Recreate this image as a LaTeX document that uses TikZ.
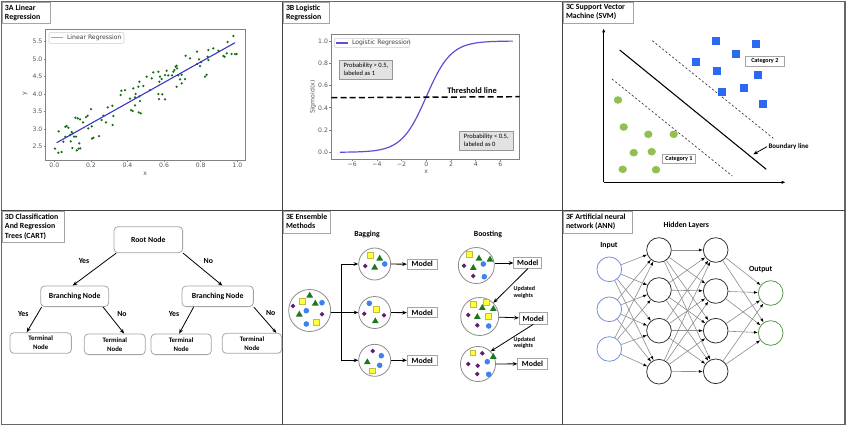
\documentclass[tikz,border=0pt]{standalone}
\usepackage{fontspec}
\setmainfont{Carlito}
\newfontfamily\mplfont{DejaVu Sans}
\usetikzlibrary{arrows.meta}

\definecolor{gridgray}{RGB}{70,70,70}
\definecolor{boxgray}{RGB}{165,165,165}
\definecolor{framegray}{RGB}{130,130,130}
\definecolor{tickgray}{RGB}{85,85,85}
\definecolor{legframe}{RGB}{205,205,205}
\definecolor{scattergreen}{RGB}{20,110,20}
\definecolor{regblue}{RGB}{50,50,200}
\definecolor{legblue}{RGB}{155,155,230}
\definecolor{sigblue}{RGB}{90,80,215}
\definecolor{probfill}{RGB}{226,226,226}
\definecolor{probedge}{RGB}{150,150,150}
\definecolor{svmblue}{RGB}{45,105,240}
\definecolor{svmgreen}{RGB}{146,192,80}
\definecolor{circgray}{RGB}{140,140,140}
\definecolor{ensyellow}{RGB}{255,255,60}
\definecolor{ensyedge}{RGB}{190,190,60}
\definecolor{ensgreen}{RGB}{30,120,30}
\definecolor{ensblue}{RGB}{60,130,240}
\definecolor{enspurple}{RGB}{95,30,115}
\definecolor{anninput}{RGB}{115,145,220}
\definecolor{annhidden}{RGB}{50,50,50}
\definecolor{annout}{RGB}{85,150,75}
\definecolor{annline}{RGB}{140,140,140}

\tikzset{every picture/.style={line width=0.75pt}}
\tikzset{
  panel/.style={draw=gridgray, line width=0.8pt},
  ttlbox/.style={draw=boxgray, line width=0.5pt},
  ttl/.style={anchor=north west, inner sep=0.75pt, align=left, font=\fontsize{5.9}{7}\selectfont\bfseries},
  lbl/.style={inner sep=0.75pt, font=\fontsize{5.85}{7}\selectfont\bfseries},
  plotframe/.style={draw=framegray, line width=0.5pt},
  ticklbl/.style={inner sep=0.75pt, text=tickgray, font=\mplfont\fontsize{4.6}{5.2}\selectfont},
  legbox/.style={draw=legframe, fill=white, line width=0.4pt, rounded corners=1pt},
  scatdot/.style={fill=scattergreen},
  probbox/.style={draw=probedge, fill=probfill, line width=0.5pt, align=left, inner sep=1.5pt, minimum width=40pt, minimum height=14pt, font=\fontsize{4.9}{6}\selectfont},
  catbox/.style={draw=boxgray, fill=white, line width=0.5pt, inner sep=1pt, minimum height=7pt, font=\fontsize{4.6}{5.5}\selectfont\bfseries},
  axisarrow/.style={draw=black, line width=0.6pt, -{Latex[length=3pt,width=2.4pt]}},
  svmsq/.style={fill=svmblue},
  svmdot/.style={fill=svmgreen},
  cartbox/.style={draw=boxgray, rounded corners=3pt, line width=0.6pt, align=center, inner sep=1pt, font=\fontsize{5.85}{7}\selectfont\bfseries},
  termbox/.style={cartbox, minimum height=15.5pt, font=\fontsize{5.1}{6.6}\selectfont\bfseries},
  cartarrow/.style={draw=black, line width=0.6pt, -{Stealth[length=3.5pt,width=2.8pt]}},
  enscirc/.style={circle, draw=circgray, fill=white, line width=0.6pt, inner sep=0pt},
  modelbox/.style={draw=boxgray, fill=white, line width=0.6pt, inner sep=0pt, font=\fontsize{5.9}{7}\selectfont\bfseries},
  ensline/.style={draw=black, line width=0.6pt},
  ensarrow/.style={ensline, -{Stealth[length=3.5pt,width=2.8pt]}},
  ysq/.style={fill=ensyellow, draw=ensyedge, line width=0.3pt},
  gtri/.style={fill=ensgreen},
  bdot/.style={fill=ensblue},
  pdia/.style={fill=enspurple},
  wtlbl/.style={anchor=west, inner sep=0.5pt, align=left, font=\fontsize{4.5}{5}\selectfont\bfseries},
  neuron/.style={circle, draw=annhidden, line width=0.6pt, minimum size=18.5pt, inner sep=0pt},
  annedge/.style={draw=annline, line width=0.45pt, -{Latex[length=3pt,width=2.2pt,color=black]}},
}

\begin{document}
\begin{tikzpicture}[x=0.75pt,y=0.75pt,yscale=-1,xscale=1]
\useasboundingbox (0,0) rectangle (847,426);

%Panel grid
\draw[panel, draw=gray!80!black, line width=1.1pt] (1.5,1.5) rectangle (845,424.5);
\draw[panel] (282.3,1.5) -- (282.3,424.5);
\draw[panel] (562.3,1.5) -- (562.3,424.5);
\draw[panel] (1.5,210.7) -- (845,210.7);

%%%%%%%% 3A Linear regression
\draw[ttlbox] (2,2) rectangle (50,23);
\node[ttl] (ttlA) at (3.5,3) {3A Linear\\Regression};
%Plot frame and ticks
\draw[plotframe] (45.7,29.3) rectangle (245.7,160);
\foreach \v [count=\k] in {2.5,3.0,3.5,4.0,4.5,5.0,5.5}
  \draw[plotframe] (45.7,{146.7-(\v-2.5)*35}) -- ++(-2,0) node[ticklbl, anchor=east] (ytA\k) {\v};
\foreach \u [count=\k] in {0.0,0.2,0.4,0.6,0.8,1.0}
  \draw[plotframe] ({54.3+183*\u},160) -- ++(0,2) node[ticklbl, anchor=north] (xtA\k) {\u};
\node[ticklbl] (xlabA) at (145.3,174.3) {x};
\node[ticklbl, rotate=90] (ylabA) at (25,94) {y};
%Scatter
\foreach \p in {(233.3,36),(227.7,42),(218.3,50.7),(213.3,48.3),(208.3,50),(197,51.7),(185.7,55.7),(190,58.3),
  (199,59.3),(201,62),(197,64),(200,66),(226.7,53.3),(231.7,54),(235,54),(236.7,54),(224.7,56.7),(223.3,56),
  (207.7,56.7),(208.3,60),(176.7,65.7),(175.7,66.7),(174.3,70),(177,68.3),(173.3,71.7),(166.7,70.7),(168.3,75.3),
  (172,75.3),(178.3,75.3),(181.7,74.7),(180,79.3),(185,79),(176.7,86.7),(181.7,83.3),(205,76.7),(206.7,74.7),
  (153.3,72.3),(158.3,71.7),(160,76.7),(161.7,79),(165,75),(159.3,81.7),(151.7,78.3),(146.7,76.7),(143.3,86),
  (150,90),(158.3,94),(162.3,94.3),(159,99),(165,99.3),(139.3,81.7),(138.3,86.7),(133.3,88.3),(135.7,94),
  (139.3,96.3),(140,101),(138.7,112.3),(140.7,113.3),(125,90),(121.3,90.7),(120.7,95),(130,98.7),(135,97.3),
  (131,110),(132.7,111),(135,105.3),(112.3,105.7),(107.7,107.3),(113.3,116),(112.7,125),(103.3,115.7),
  (106,122.3),(101.7,120),(91,109),(87.7,115.7),(91.7,126.3),(93.3,137.7),(92,138.7),(99,136),(83,122.3),
  (86,117),(88.3,128.3),(77.7,118.3),(80,119.3),(75.3,117.7),(66.7,126),(65.3,126.7),(68.3,127.7),(71.7,132),
  (70,135),(72.7,133.3),(70.7,141.3),(74,136.7),(76,136.7),(79.3,143.3),(78.7,148.7),(80.3,148.3),(76.7,150.3),
  (72.3,148),(58.7,131.3),(65.3,136.7),(63.3,141.7),(55,148.7),(58.3,152.7),(61.7,152)}
  \fill[scatdot] \p circle (1.25);
%Fitted line
\draw[draw=regblue, line width=0.8pt] (56.7,142.7) -- (235,42.7);
%Legend
\draw[legbox] (49,32.3) rectangle (124,43.3);
\draw[draw=legblue, line width=0.8pt] (50.7,37.8) -- (63.3,37.8);
\node[ticklbl, anchor=west, text=black!75] (legA) at (65.5,37.8) {Linear Regression};

%%%%%%%% 3B Logistic regression
\draw[ttlbox] (283,2) rectangle (329,23);
\node[ttl] (ttlB) at (284.5,3) {3B Logistic\\Regression};
\draw[plotframe] (331.3,34.7) rectangle (519.7,159);
\foreach \s [count=\k] in {0.0,0.2,0.4,0.6,0.8,1.0}
  \draw[plotframe] (331.3,{152.3-111.3*\s}) -- ++(-2,0) node[ticklbl, anchor=east] (ytB\k) {\s};
\foreach \t/\lab [count=\k] in {-6/−6,-4/−4,-2/−2,0/0,2/2,4/4,6/6}
  \draw[plotframe] ({426.3+12.35*(\t)},159) -- ++(0,2) node[ticklbl, anchor=north] (xtB\k) {\lab};
\node[ticklbl] (xlabB) at (426.3,172.3) {x};
\node[ticklbl, rotate=90] (ylabB) at (313,97) {Sigmoid(x)};
%Sigmoid curve
\draw[draw=sigblue, line width=0.9pt] plot[domain=-7:7, samples=70, smooth] ({426.3+12.35*\x},{152.3-111.3/(1+exp(-(\x)))});
%Threshold
\draw[draw=black, line width=1.1pt, dash pattern=on 4.5pt off 2.4pt] (331.3,97.7) -- (519.7,96.7);
\node[lbl, font=\fontsize{6.3}{7}\selectfont\bfseries] (thr) at (472,91) {Threshold line};
\node[probbox] (pgt) at (366,69.5) {Probability > 0.5,\\labeled as 1};
\node[probbox] (plt) at (486.3,140.5) {Probability < 0.5,\\labeled as 0};
%Legend
\draw[legbox] (334.3,38.3) rectangle (409.3,47.7);
\draw[draw=sigblue, line width=0.9pt] (336.3,43) -- (348,43);
\node[ticklbl, anchor=west, text=black!75] (legB) at (350.5,43) {Logistic Regression};

%%%%%%%% 3C Support vector machine
\draw[ttlbox] (563.5,2) rectangle (633.3,23.3);
\node[ttl] (ttlC) at (564.5,3) {3C Support Vector\\Machine (SVM)};
\coordinate (svmO) at (603.7,182.3);
\coordinate (svmY) at (603.7,28.3);
\coordinate (svmX) at (785.7,182.3);
\draw[axisarrow] (svmO) -- (svmY);
\draw[axisarrow] (svmO) -- (svmX);
%Boundary and margins
\coordinate (bdA) at (619.7,50);
\coordinate (bdB) at (766.3,169.3);
\draw[draw=black, line width=0.8pt] (bdA) -- (bdB);
\draw[draw=black!80, line width=0.5pt, dash pattern=on 1.6pt off 1.6pt] (612,79) -- (732.3,176);
\draw[draw=black!80, line width=0.5pt, dash pattern=on 1.6pt off 1.6pt] (652.3,40.7) -- (773.3,138.3);
\foreach \p in {(715.7,41),(756.3,44.3),(736.3,54),(695.7,62),(717,70.7),(758.3,75),(721.7,91.7),(744,87.7),(762.7,104)}
  \fill[svmsq] \p ++(-4,-4) rectangle ++(8,8);
\foreach \p in {(618,100),(623.7,127),(648.3,134.3),(673.7,134.3),(633.7,152.7),(651.7,151.7),(622.7,169.3),(656,169.7)}
  \fill[svmdot] \p ellipse (4.2 and 3.8);
\node[catbox, minimum width=28.7pt] (cat2) at (764.8,61.3) {Category 2};
\node[catbox, minimum width=25pt] (cat1) at (679,158.7) {Category 1};
\node[lbl, anchor=west, font=\fontsize{5.2}{6}\selectfont\bfseries] (bdl) at (767,146.7) {Boundary line};
\coordinate (bdhit) at (753.3,154.3);
\draw[draw=black, line width=0.6pt, -{Stealth[length=3.5pt,width=2.8pt]}] (bdl.west) -- (bdhit);

%%%%%%%% 3D CART
\draw[ttlbox] (2,211) rectangle (64.7,242.7);
\node[ttl] (ttlD) at (3.5,212.5) {3D Classification\\And Regression\\Trees (CART)};
\node[cartbox, minimum width=51.5pt, minimum height=19.5pt] (root) at (148.3,239.7) {Root Node};
\node[cartbox, minimum width=51pt, minimum height=15.5pt] (brL) at (74.7,296.3) {Branching Node};
\node[cartbox, minimum width=53.5pt, minimum height=15.5pt] (brR) at (217.7,296.3) {Branching Node};
\node[termbox, minimum width=46pt] (tm1) at (40.7,343) {Terminal\\Node};
\node[termbox, minimum width=45.7pt] (tm2) at (114.8,344.3) {Terminal\\Node};
\node[termbox, minimum width=45.2pt] (tm3) at (181.2,344.3) {Terminal\\Node};
\node[termbox, minimum width=44.5pt, minimum height=15pt] (tm4) at (252,343.3) {Terminal\\Node};
\draw[cartarrow] ([xshift=2pt]root.south west) -- ([xshift=-1.5pt]brL.north);
\draw[cartarrow] (root.south east) -- ([xshift=3.5pt]brR.north);
\draw[cartarrow] ([xshift=1pt]brL.south west) -- ([xshift=-10.5pt]tm1.north);
\draw[cartarrow] ([xshift=-4.5pt]brL.south east) -- ([xshift=7pt]tm2.north);
\draw[cartarrow] ([xshift=9pt]brR.south west) -- ([xshift=-1.5pt]tm3.north);
\draw[cartarrow] (brR.south east) -- ([xshift=-4.3pt]tm4.north east);
\node[lbl] (yes0) at (84,260.7) {Yes};
\node[lbl] (no0) at (208.3,260.7) {No};
\node[lbl] (yes1) at (23.3,313.7) {Yes};
\node[lbl] (no1) at (122,313.7) {No};
\node[lbl] (yes2) at (174,313.7) {Yes};
\node[lbl] (no2) at (270.7,313.3) {No};

%%%%%%%% 3E Ensemble methods
\draw[ttlbox] (283,211) rectangle (330.3,233.3);
\node[ttl] (ttlE) at (284.5,212.5) {3E Ensemble\\Methods};
\node[lbl] (bagging) at (367,234.7) {Bagging};
\node[lbl] (boosting) at (488,234.7) {Boosting};
%Bagging
\node[enscirc, minimum size=31.5pt] (pool) at (309.7,310.5) {};
\node[enscirc, minimum size=24pt] (bag1) at (374.7,264) {};
\node[enscirc, minimum size=24pt] (bag2) at (374.7,312.5) {};
\node[enscirc, minimum size=24pt] (bag3) at (374.7,360.3) {};
\coordinate (split) at (341,312.5);
\draw[ensline] (pool.east |- split) -- (split);
\draw[ensarrow] (split) -- (bag2);
\draw[ensarrow] (split) |- (bag1);
\draw[ensarrow] (split) |- (bag3);
\node[modelbox, minimum width=22.5pt, minimum height=7.3pt] (mA1) at (422.3,264.2) {Model};
\node[modelbox, minimum width=22.5pt, minimum height=7.3pt] (mA2) at (422.3,312.7) {Model};
\node[modelbox, minimum width=22.5pt, minimum height=7.3pt] (mA3) at (422.3,360.3) {Model};
\draw[ensarrow] (bag1) -- (mA1);
\draw[ensarrow] (bag2) -- (mA2);
\draw[ensarrow] (bag3) -- (mA3);
%Boosting
\node[enscirc, minimum size=27pt] (boost1) at (476.3,265.5) {};
\node[enscirc, minimum size=28.5pt] (boost2) at (479.7,316.5) {};
\node[enscirc, minimum size=26.3pt] (boost3) at (478,364) {};
\node[modelbox, minimum width=21pt, minimum height=8pt] (mB1) at (527.8,263) {Model};
\node[modelbox, minimum width=21pt, minimum height=8.4pt] (mB2) at (533.3,318.3) {Model};
\node[modelbox, minimum width=22pt, minimum height=8.2pt] (mB3) at (532.5,363.8) {Model};
\draw[ensarrow] (boost1.east |- mB1) -- (mB1);
\draw[ensarrow] (boost2) -- (mB2);
\draw[ensarrow] (boost3) -- (mB3);
\draw[ensarrow] (mB1.south) -- (boost2.north east);
\draw[ensarrow] (mB2.south) -- (boost3.north east);
\node[wtlbl] (upd1) at (512.5,292.5) {Updated\\weights};
\node[wtlbl] (upd2) at (512.5,343) {Updated\\weights};
%Samples in the circles
\foreach \p in {(302,301),(316.3,322.3),(370.3,255),(376.3,309),(372.3,370.7),(469.3,254.3),(473.3,304),(486,302.3),(488.3,316.3),(472.7,352.7)}
  \filldraw[ysq] \p ++(-2.8,-2.8) rectangle ++(5.6,5.6);
\foreach \p in {(309.7,295.3),(315.3,303.3),(299.3,314.3),(379.7,258.3),(374.7,267.3),(375.3,321),(367.3,362),(479,258.3),(490,259.3),(473.3,267.7),(482.3,307.7),(493.3,308.7),(477.3,316.7),(493.3,356.7)}
  \fill[gtri] \p ++(0,-3.6) -- ++(3.4,5.8) -- ++(-6.8,0) -- cycle;
\foreach \p in {(322,302.7),(306.3,310.7),(306.3,324),(384.7,264),(369.3,303.3),(381.3,355.7),(379.7,365.3),(483.3,264),(484.3,276.7),(488.7,326),(487.3,361.7),(488.7,374.3)}
  \fill[bdot] \p circle (2.8);
\foreach \p in {(293,306),(322,314.3),(365.3,266),(364.3,313.7),(384,315.3),(372.7,351),(464,265.7),(473.3,276),(468.3,315),(477.3,325.3),(482.3,353.3),(468.3,364),(477.7,365.7),(477.3,374)}
  \fill[pdia] \p ++(0,-2.4) -- ++(2.4,2.4) -- ++(-2.4,2.4) -- ++(-2.4,-2.4) -- cycle;

%%%%%%%% 3F Artificial neural network
\draw[ttlbox] (563,211) rectangle (632.7,233.3);
\node[ttl] (ttlF) at (564.5,212.5) {3F Artificial neural\\network (ANN)};
\node[lbl] (hidlbl) at (686.3,225) {Hidden Layers};
\node[lbl] (inlbl) at (609,245.7) {Input};
\node[lbl] (outlbl) at (760.7,270) {Output};
\foreach \y [count=\i from 0] in {269.3,309.3,349}
  \node[neuron, draw=anninput] (in\i) at (609.3,\y) {};
\foreach \y [count=\i from 0] in {250,290,330.7,371.7}
  \node[neuron] (ha\i) at (659,\y) {};
\foreach \y [count=\i from 0] in {250,291,330.7,371.3}
  \node[neuron] (hb\i) at (715.7,\y) {};
\foreach \y [count=\i from 0] in {293,333}
  \node[neuron, draw=annout] (out\i) at (770.7,\y) {};
\foreach \i in {0,1,2}
  \foreach \j in {0,...,3}
    \draw[annedge] (in\i) -- (ha\j);
\foreach \i in {0,...,3}
  \foreach \j in {0,...,3}
    \draw[annedge] (ha\i) -- (hb\j);
\foreach \i in {0,...,3}
  \foreach \j in {0,1}
    \draw[annedge] (hb\i) -- (out\j);

\end{tikzpicture}
\end{document}
